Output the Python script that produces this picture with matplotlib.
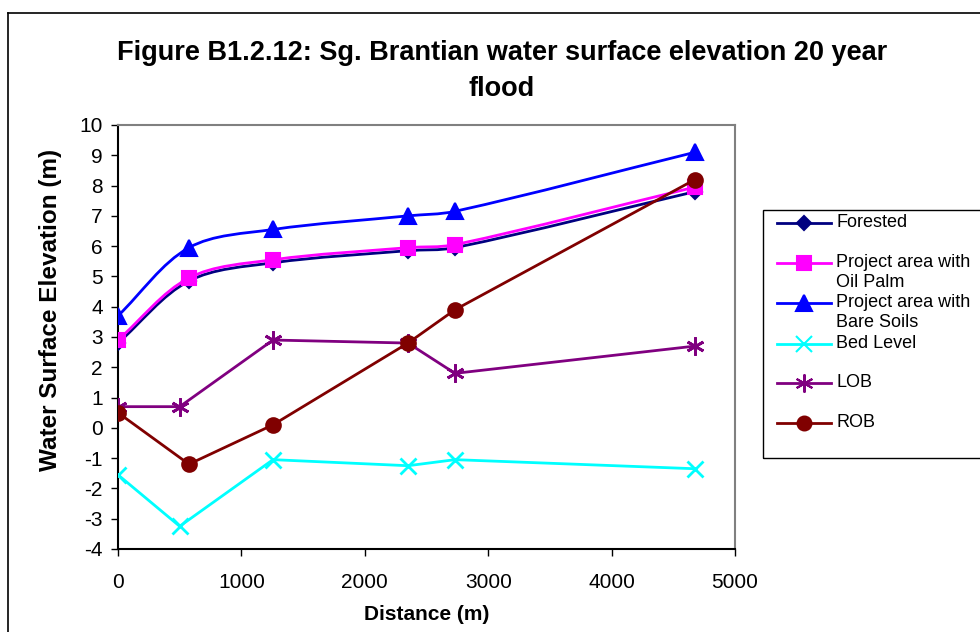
import matplotlib
matplotlib.use("Agg")
import matplotlib.pyplot as plt
from matplotlib.path import Path
from matplotlib.patches import PathPatch, Rectangle
from matplotlib.lines import Line2D
import numpy as np

plt.rcParams['font.family'] = ['Liberation Sans', 'DejaVu Sans']
plt.rcParams['axes.unicode_minus'] = False

# distances (m)
dist_main = [0, 575, 1256, 2350, 2731, 4676]
dist_bank = [0, 500, 1256, 2350, 2731, 4676]

# water surface elevations (m)
forested = [2.8, 4.85, 5.45, 5.85, 5.95, 7.8]
oil_palm = [2.9, 4.95, 5.55, 5.95, 6.05, 7.95]
bare_soils = [3.7, 5.95, 6.55, 7.0, 7.15, 9.1]
bed_level = [-1.55, -3.25, -1.05, -1.25, -1.05, -1.35]
lob = [0.7, 0.7, 2.9, 2.8, 1.8, 2.7]
rob = [0.5, -1.2, 0.1, 2.8, 3.9, 8.2]

labels = ['Forested', 'Project area with\nOil Palm', 'Project area with\nBare Soils',
          'Bed Level', 'LOB', 'ROB']


def smooth_path(ax, x, y):
    # excel-like smoothed line, worked out in pixel space then mapped back to data
    p = ax.transData.transform(np.column_stack([x, y]).astype(float))
    n = len(p)
    verts = [p[0]]
    codes = [Path.MOVETO]
    for i in range(n - 1):
        a = p[i - 1] if i > 0 else p[i]
        d = p[i + 2] if i + 2 < n else p[i + 1]
        seg = np.linalg.norm(p[i + 1] - p[i])
        l0 = np.linalg.norm(p[i] - a)
        l1 = np.linalg.norm(d - p[i + 1])
        c1 = p[i] + (p[i + 1] - a) * seg / (seg + l0) / 3
        c2 = p[i + 1] - (d - p[i]) * seg / (seg + l1) / 3
        verts += [c1, c2, p[i + 1]]
        codes += [Path.CURVE4] * 3
    verts = ax.transData.inverted().transform(np.array(verts))
    return Path(verts, codes)


fig = plt.figure(figsize=(9.8, 6.32), dpi=100)
ax = fig.add_axes([118 / 980, 1 - 549 / 632, (735 - 118) / 980, (549 - 125) / 632])
ax.set_xlim(0, 5000)
ax.set_ylim(-4, 10)

styles = [
    (dist_main, forested, '#000080', 'D', 7, True),
    (dist_main, oil_palm, '#FF00FF', 's', 10, True),
    (dist_main, bare_soils, '#0000FF', '^', 11, True),
    (dist_bank, bed_level, '#00FFFF', 'x', 11, False),
    (dist_bank, lob, '#800080', (6, 2, 0), 13, False),
    (dist_main, rob, '#800000', 'o', 10, False),
]

for x, y, c, m, ms, smooth in styles:
    if smooth:
        ax.add_patch(PathPatch(smooth_path(ax, x, y), fill=False, edgecolor=c, lw=2, zorder=2))
        ax.plot(x, y, ls='none', marker=m, ms=ms, color=c, mec=c, mew=1.5, zorder=3)
    else:
        ax.plot(x, y, ls='-', lw=2, marker=m, ms=ms, color=c, mec=c, mew=2, zorder=3)

ax.set_xticks(range(0, 5001, 1000))
ax.set_yticks(range(-4, 11))
ax.tick_params(axis='both', direction='out', length=5, width=1, labelsize=15)
ax.tick_params(axis='x', pad=12)
ax.tick_params(axis='y', pad=6)
for s in ['top', 'right']:
    ax.spines[s].set_color('#808080')
    ax.spines[s].set_linewidth(1.5)
for s in ['left', 'bottom']:
    ax.spines[s].set_linewidth(1.5)

ax.set_xlabel('Distance (m)', fontsize=15, fontweight='bold', labelpad=10)
ax.set_ylabel('Water Surface Elevation (m)', fontsize=17.5, fontweight='bold')
ax.yaxis.set_label_coords(-0.091, 0.564)

fig.text(502 / 980, 1 - 71 / 632,
         'Figure B1.2.12: Sg. Brantian water surface elevation 20 year\nflood',
         ha='center', va='center', fontsize=19.5, fontweight='bold', linespacing=1.5)

# outer chart border
fig.add_artist(Line2D([8 / 980, 8 / 980], [0, 1 - 13 / 632], color='black', lw=1.2))
fig.add_artist(Line2D([8 / 980, 1], [1 - 13 / 632, 1 - 13 / 632], color='black', lw=1.2))

# legend
fig.add_artist(Rectangle((763 / 980, 1 - 458 / 632), 230 / 980, 248 / 632,
                         transform=fig.transFigure, fill=False, edgecolor='black', lw=1))
rows = [223, 263, 303, 344, 383, 423]
for (x, y, c, m, ms, smooth), lab, r in zip(styles, labels, rows):
    yy = 1 - r / 632
    fig.add_artist(Line2D([777 / 980, 831 / 980], [yy, yy], color=c, lw=2))
    fig.add_artist(Line2D([804 / 980], [yy], ls='none', marker=m, ms=ms, color=c, mec=c, mew=1.5))
    fig.text(836 / 980, yy + 9 / 632, lab, fontsize=13, va='top', ha='left', linespacing=1.2)

fig.savefig('out.png', dpi=100)
